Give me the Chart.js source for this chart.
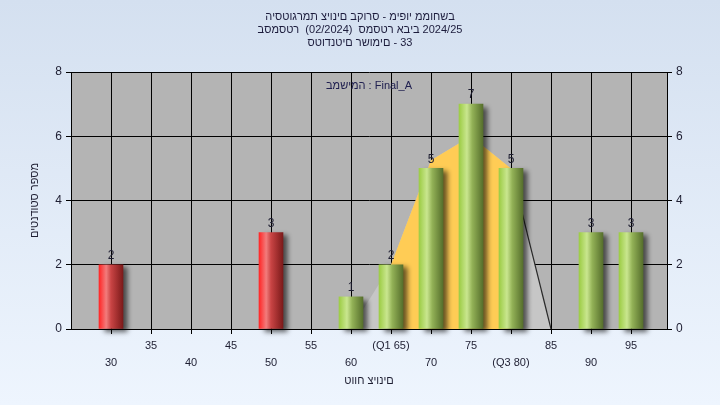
<!DOCTYPE html>
<html>
<head>
<meta charset="utf-8">
<script src="https://cdn.jsdelivr.net/npm/chart.js@4/dist/chart.umd.min.js"></script>
<style>
  html, body { margin: 0; padding: 0; }
  body { width: 720px; height: 405px; background: linear-gradient(#d4e0f0, #eef5fe); overflow: hidden; }
  #wrap { width: 720px; height: 405px; }
</style>
</head>
<body>
<div id="wrap"><canvas id="histChart"></canvas></div>
<script>
const titleLines = [
  'היסטוגרמת ציונים בקורס - מיפוי ממוחשב',
  'בסמסטר  (02/2024)  סמסטר אביב 2024/25',
  'סטודנטים רשומים - 33'
];
const taskLabel = 'במשימה : Final_A';
const xAxisTitle = 'טווח ציונים';
const yAxisTitle = 'מספר סטודנטים';

// histogram
const scores = [30, 50, 60, 65, 70, 75, 80, 90, 95];
const counts = [2, 3, 1, 2, 5, 7, 5, 3, 3];
const passMark = 55;

// distribution polygon behind the bars
const curveX = [60, 65, 70, 75, 80, 85];
const curveY = [0, 2, 5.25, 6, 5, 0];
const q1 = 65;
const q3 = 80;

// axes
const xTicks = [30, 35, 40, 45, 50, 55, 60, 65, 70, 75, 80, 85, 90, 95];
const xTickLabels = ['30', '35', '40', '45', '50', '55', '60', '(Q1 65)', '70', '75', '(Q3 80)', '85', '90', '95'];
const yMax = 8;

const BAR_W = 24;
const FONT = '"Liberation Sans", Arial, sans-serif';
const textColor = '#1e1e32';

// the original draws these Hebrew strings in stored (left-to-right) order, so lay glyphs out one by one
function drawLtr(ctx, text, x, y) {
  const chars = Array.from(text);
  const widths = chars.map(c => ctx.measureText(c).width);
  let cx = x - widths.reduce((a, b) => a + b, 0) / 2;
  ctx.textAlign = 'left';
  chars.forEach((c, i) => {
    ctx.fillText(c, cx, y);
    cx += widths[i];
  });
}

function barFill(context) {
  const chart = context.chart;
  if (!chart.chartArea) return '#999';
  const score = scores[context.dataIndex];
  const cx = chart.scales.x.getPixelForValue(score);
  const g = chart.ctx.createLinearGradient(cx - BAR_W / 2, 0, cx + BAR_W / 2, 0);
  if (score < passMark) {
    g.addColorStop(0, '#ff2626');
    g.addColorStop(0.3, '#f27c7c');
    g.addColorStop(0.5, '#c94444');
    g.addColorStop(1, '#7c1a1a');
  } else {
    g.addColorStop(0, '#9ccc44');
    g.addColorStop(0.33, '#c9e68f');
    g.addColorStop(0.55, '#93b257');
    g.addColorStop(1, '#566f2c');
  }
  return g;
}

const plotBackground = {
  id: 'plotBackground',
  beforeDraw(chart) {
    const { ctx, chartArea: a } = chart;
    ctx.save();
    ctx.fillStyle = '#b4b4b4';
    ctx.fillRect(a.left, a.top, a.right - a.left, a.bottom - a.top);
    ctx.restore();
  }
};

const barShadow = {
  id: 'barShadow',
  beforeDatasetDraw(chart, args) {
    if (args.meta.type !== 'bar') return;
    const ctx = chart.ctx;
    ctx.save();
    ctx.shadowColor = 'rgba(0,0,0,0.6)';
    ctx.shadowBlur = 5;
    ctx.shadowOffsetX = 5;
    ctx.shadowOffsetY = 3;
  },
  afterDatasetDraw(chart, args) {
    if (args.meta.type !== 'bar') return;
    chart.ctx.restore();
  }
};

const texts = {
  id: 'texts',
  afterDatasetsDraw(chart) {
    const ctx = chart.ctx;
    const a = chart.chartArea;
    const meta = chart.getDatasetMeta(0);
    ctx.save();

    // counts above bars
    ctx.font = '12px ' + FONT;
    ctx.fillStyle = textColor;
    ctx.textAlign = 'center';
    ctx.textBaseline = 'bottom';
    meta.data.forEach((bar, i) => {
      ctx.fillText(String(counts[i]), bar.x, bar.y - 3);
    });

    ctx.textBaseline = 'middle';
    ctx.font = '11px ' + FONT;

    // task caption
    ctx.fillStyle = '#202050';
    drawLtr(ctx, taskLabel, (a.left + a.right) / 2, a.top + 14);

    // main title
    ctx.fillStyle = '#1c1c3c';
    titleLines.forEach((line, i) => drawLtr(ctx, line, chart.width / 2, 17 + i * 13));

    // x axis title
    ctx.fillStyle = textColor;
    drawLtr(ctx, xAxisTitle, (a.left + a.right) / 2, 381);

    // y axis title, rotated like a usual left axis title
    ctx.translate(35, (a.top + a.bottom) / 2);
    ctx.rotate(-Math.PI / 2);
    ctx.textAlign = 'center';
    ctx.fillText(yAxisTitle, 0, 0);

    ctx.restore();
  }
};

const font12 = { family: FONT, size: 12 };
const points = curveX.map((x, i) => ({ x: x, y: curveY[i] }));

new Chart(document.getElementById('histChart'), {
  type: 'bar',
  data: {
    datasets: [
      {
        type: 'bar',
        data: scores.map((s, i) => ({ x: s, y: counts[i] })),
        backgroundColor: barFill,
        borderWidth: 0,
        barThickness: BAR_W,
        clip: false,
        order: 0
      },
      {
        type: 'line',
        data: points,
        borderWidth: 0,
        borderColor: 'rgba(0,0,0,0)',
        backgroundColor: '#c6c6c6',
        fill: 'origin',
        pointRadius: 0,
        tension: 0,
        order: 3
      },
      {
        type: 'line',
        data: points.filter(p => p.x >= q1 && p.x <= q3),
        borderWidth: 0,
        borderColor: 'rgba(0,0,0,0)',
        backgroundColor: '#ffcc55',
        fill: 'origin',
        pointRadius: 0,
        tension: 0,
        order: 2
      },
      {
        type: 'line',
        data: points.filter(p => p.x >= q3),
        borderWidth: 1.2,
        borderColor: '#2a2a2a',
        fill: false,
        pointRadius: 0,
        tension: 0,
        order: 1
      }
    ]
  },
  options: {
    responsive: true,
    maintainAspectRatio: false,
    animation: false,
    layout: { padding: { left: 0, right: 0, top: 72, bottom: 0 } },
    plugins: {
      legend: { display: false },
      tooltip: { enabled: false },
      title: { display: false }
    },
    scales: {
      x: {
        type: 'linear',
        offset: false,
        min: 25,
        max: 99.5,
        afterBuildTicks: scale => { scale.ticks = xTicks.map(v => ({ value: v })); },
        afterFit: scale => { scale.height = 76; },
        grid: { offset: false, color: '#000', tickColor: '#000', tickLength: 5, lineWidth: 1 },
        border: { color: '#000' },
        ticks: {
          color: textColor,
          font: { family: FONT, size: 11, lineHeight: 1.55 },
          padding: 3,
          maxRotation: 0,
          autoSkip: false,
          callback: (value, index) => index % 2 === 0 ? ['', xTickLabels[index]] : xTickLabels[index]
        }
      },
      y: {
        position: 'left',
        min: 0,
        max: yMax,
        afterFit: scale => { scale.width = 71; },
        grid: { color: '#000', tickColor: '#000', tickLength: 5, lineWidth: 1 },
        border: { color: '#000' },
        ticks: { stepSize: 2, color: textColor, font: font12, padding: 4 }
      },
      y2: {
        position: 'right',
        min: 0,
        max: yMax,
        afterFit: scale => { scale.width = 53; },
        grid: { drawOnChartArea: false, color: '#000', tickColor: '#000', tickLength: 5 },
        border: { color: '#000' },
        ticks: { stepSize: 2, color: textColor, font: font12, padding: 4 }
      }
    }
  },
  plugins: [plotBackground, barShadow, texts]
});
</script>
</body>
</html>
